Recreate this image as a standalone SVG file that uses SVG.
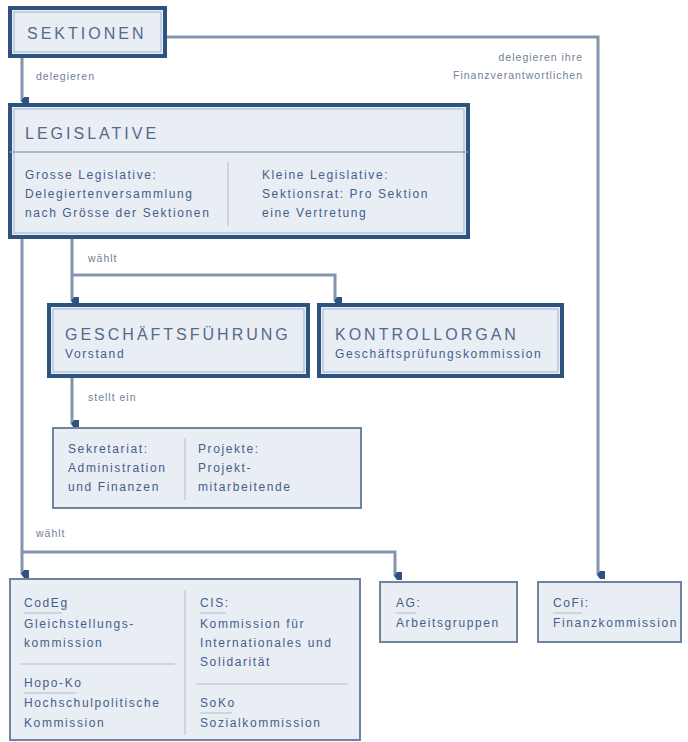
<svg xmlns="http://www.w3.org/2000/svg" width="688" height="742" viewBox="0 0 688 742">
<defs>
<style>
.thick{fill:#e9edf4;stroke:#2e5381;stroke-width:4}
.inner{fill:none;stroke:#b3c6df;stroke-width:1.5}
.thin{fill:#e9edf4;stroke:#6f83a0;stroke-width:2}
.line{fill:none;stroke:#8395ad;stroke-width:3}
.div{fill:none;stroke:#c5cdd9;stroke-width:1.5}
.sep{fill:none;stroke:#9aa6b8;stroke-width:1.5}
.title{font-family:"Liberation Sans",Arial,sans-serif;font-size:16px;letter-spacing:3px;fill:#55698a}
.body{font-family:"Liberation Sans",Arial,sans-serif;font-size:12px;letter-spacing:1.6px;fill:#44608a}
.lbl{font-family:"Liberation Sans",Arial,sans-serif;font-size:10.5px;letter-spacing:1px;fill:#6f7f96}
</style>
<marker id="arr" viewBox="0 0 8 8" refX="4" refY="7" markerWidth="8" markerHeight="8" markerUnits="userSpaceOnUse" orient="auto">
<path d="M0,0 L8,0 L8,5 L4,8 L0,5 Z" fill="#2e5381"/>
</marker>
</defs>
<rect width="688" height="742" fill="#ffffff"/>

<g id="connectors">
<path class="line" d="M165,37 H598 V575" marker-end="url(#arr)"/>
<path class="line" d="M22,57 V101" marker-end="url(#arr)"/>
<path class="line" d="M22,237 V574" marker-end="url(#arr)"/>
<path class="line" d="M72,237 V301" marker-end="url(#arr)"/>
<path class="line" d="M72,275 H335 V301" marker-end="url(#arr)"/>
<path class="line" d="M72,377 V424" marker-end="url(#arr)"/>
<path class="line" d="M22,552 H395 V576" marker-end="url(#arr)"/>
<text class="lbl" x="36" y="80">delegieren</text>
<text class="lbl" x="583" y="61" text-anchor="end">delegieren ihre</text>
<text class="lbl" x="583" y="79" text-anchor="end">Finanzverantwortlichen</text>
<text class="lbl" x="88" y="262">wählt</text>
<text class="lbl" x="88" y="401">stellt ein</text>
<text class="lbl" x="36" y="537">wählt</text>
</g>

<g id="sektionen">
<rect class="thick" x="10" y="8" width="155" height="48"/>
<rect class="inner" x="14" y="12" width="147" height="40"/>
<text class="title" x="27" y="39">SEKTIONEN</text>
</g>

<g id="legislative">
<rect class="thick" x="10" y="105" width="458" height="132"/>
<rect class="inner" x="14" y="109" width="450" height="124"/>
<text class="title" x="25" y="139">LEGISLATIVE</text>
<line class="sep" x1="10" y1="152" x2="468" y2="152"/>
<line class="div" x1="228" y1="162" x2="228" y2="226"/>
<text class="body" x="25" y="179">Grosse Legislative:</text>
<text class="body" x="25" y="198">Delegiertenversammlung</text>
<text class="body" x="25" y="217">nach Grösse der Sektionen</text>
<text class="body" x="262" y="179">Kleine Legislative:</text>
<text class="body" x="262" y="198">Sektionsrat: Pro Sektion</text>
<text class="body" x="262" y="217">eine Vertretung</text>
</g>

<g id="geschaeftsfuehrung">
<rect class="thick" x="49" y="305" width="259" height="71"/>
<rect class="inner" x="53" y="309" width="251" height="63"/>
<text class="title" x="65" y="340">GESCHÄFTSFÜHRUNG</text>
<text class="body" x="65" y="358">Vorstand</text>
</g>

<g id="kontrollorgan">
<rect class="thick" x="319" y="305" width="243" height="71"/>
<rect class="inner" x="323" y="309" width="235" height="63"/>
<text class="title" x="335" y="340">KONTROLLORGAN</text>
<text class="body" x="335" y="358">Geschäftsprüfungskommission</text>
</g>

<g id="mitarbeitende">
<rect class="thin" x="53" y="428" width="308" height="80"/>
<line class="div" x1="185" y1="438" x2="185" y2="500"/>
<text class="body" x="68" y="453">Sekretariat:</text>
<text class="body" x="68" y="472">Administration</text>
<text class="body" x="68" y="491">und Finanzen</text>
<text class="body" x="198" y="453">Projekte:</text>
<text class="body" x="198" y="472">Projekt-</text>
<text class="body" x="198" y="491">mitarbeitende</text>
</g>

<g id="kommissionen">
<rect class="thin" x="10" y="579" width="350" height="161"/>
<line class="div" x1="185" y1="590" x2="185" y2="735"/>
<text class="body" x="24" y="607">CodEg</text>
<line class="div" x1="24" y1="613" x2="62" y2="613"/>
<text class="body" x="24" y="628">Gleichstellungs-</text>
<text class="body" x="24" y="647">kommission</text>
<line class="div" x1="20" y1="664" x2="175" y2="664"/>
<text class="body" x="24" y="687">Hopo-Ko</text>
<line class="div" x1="24" y1="693" x2="76" y2="693"/>
<text class="body" x="24" y="707">Hochschulpolitische</text>
<text class="body" x="24" y="727">Kommission</text>
<text class="body" x="200" y="607">CIS:</text>
<line class="div" x1="200" y1="613" x2="226" y2="613"/>
<text class="body" x="200" y="628">Kommission für</text>
<text class="body" x="200" y="647">Internationales und</text>
<text class="body" x="200" y="666">Solidarität</text>
<line class="div" x1="196" y1="684" x2="348" y2="684"/>
<text class="body" x="200" y="707">SoKo</text>
<line class="div" x1="200" y1="713" x2="232" y2="713"/>
<text class="body" x="200" y="727">Sozialkommission</text>
</g>

<g id="ag">
<rect class="thin" x="380" y="582" width="137" height="60"/>
<text class="body" x="396" y="607">AG:</text>
<line class="div" x1="396" y1="613" x2="416" y2="613"/>
<text class="body" x="396" y="627">Arbeitsgruppen</text>
</g>

<g id="cofi">
<rect class="thin" x="538" y="582" width="143" height="60"/>
<text class="body" x="553" y="607">CoFi:</text>
<line class="div" x1="553" y1="613" x2="582" y2="613"/>
<text class="body" x="553" y="627">Finanzkommission</text>
</g>
</svg>
